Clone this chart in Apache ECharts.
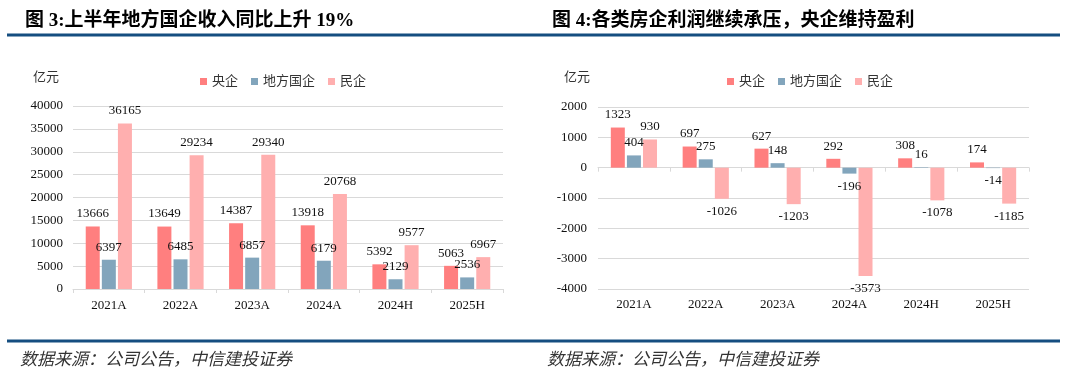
<!DOCTYPE html>
<html>
<head>
<meta charset="utf-8">
<script src="https://cdn.jsdelivr.net/npm/echarts@6/dist/echarts.min.js"></script>
<style>
html,body{margin:0;padding:0;background:#fff;}
#c{width:1080px;height:381px;}
</style>
</head>
<body>
<div id="c"></div>
<script>
const categories = ['2021A','2022A','2023A','2024A','2024H','2025H'];
const seriesNames = ['央企','地方国企','民企'];
const revCentral = [13666,13649,14387,13918,5392,5063];
const revLocal = [6397,6485,6857,6179,2129,2536];
const revPrivate = [36165,29234,29340,20768,9577,6967];
const profCentral = [1323,697,627,292,308,174];
const profLocal = [404,275,148,-196,16,-14];
const profPrivate = [930,-1026,-1203,-3573,-1078,-1185];
const title1 = '图 3:上半年地方国企收入同比上升 19%';
const title2 = '图 4:各类房企利润继续承压，央企维持盈利';
const sourceText = '数据来源：公司公告，中信建投证券';
const unitText = '亿元';

const colors = ['#FF7F7F','#82A5BC','#FFAFAF'];
const serif = "'Liberation Serif','Noto Sans CJK SC'";
const numFont = {fontFamily: serif, fontSize: 13, color: '#111'};

function mkData(arr){
  return arr.map(v => ({value: v, label: {position: v < 0 ? 'bottom' : 'top'}}));
}
function barSeries(name, data, xi, yi, color){
  return {
    name: name, type: 'bar', xAxisIndex: xi, yAxisIndex: yi,
    data: mkData(data), barWidth: 14, barGap: '15%',
    itemStyle: {color: color},
    label: Object.assign({show: true, distance: 6}, numFont),
    emphasis: {disabled: true}
  };
}
const plain = v => String(v);

const chart = echarts.init(document.getElementById('c'), null, {renderer: 'canvas'});
const gridLine = {show: true, lineStyle: {color: '#d9d9d9', width: 1}};
const option = {
  animation: false,
  color: colors,
  textStyle: {fontFamily: serif},
  title: [
    {text: title1, left: 20, top: 7, textStyle: {fontFamily: serif, fontSize: 19, fontWeight: 'bold', color: '#000'}},
    {text: title2, left: 547, top: 7, textStyle: {fontFamily: serif, fontSize: 19, fontWeight: 'bold', color: '#000'}}
  ],
  legend: [
    {data: seriesNames, left: 195, top: 70, icon: 'rect', itemWidth: 7, itemHeight: 7, itemGap: 13,
     textStyle: {fontFamily: serif, fontSize: 13, color: '#333'}},
    {data: seriesNames, left: 722, top: 70, icon: 'rect', itemWidth: 7, itemHeight: 7, itemGap: 13,
     textStyle: {fontFamily: serif, fontSize: 13, color: '#333'}}
  ],
  grid: [
    {left: 73, right: 577, top: 106, bottom: 92},
    {left: 598, right: 51, top: 107, bottom: 92}
  ],
  xAxis: [
    {type: 'category', gridIndex: 0, data: categories,
     axisLine: {show: true, lineStyle: {color: '#d9d9d9'}},
     axisTick: {show: true, length: 4, lineStyle: {color: '#d9d9d9'}},
     axisLabel: {margin: 10, fontFamily: serif, fontSize: 13, color: '#111'}},
    {type: 'category', gridIndex: 1, data: categories, position: 'bottom',
     axisLine: {show: false, onZero: false}, axisTick: {show: false},
     axisLabel: {margin: 9, fontFamily: serif, fontSize: 13, color: '#111'}},
    {type: 'category', gridIndex: 1, data: categories, position: 'bottom',
     axisLine: {show: true, onZero: true, lineStyle: {color: '#d9d9d9'}},
     axisTick: {show: true, length: 4, lineStyle: {color: '#d9d9d9'}},
     axisLabel: {show: false}}
  ],
  yAxis: [
    {type: 'value', gridIndex: 0, min: 0, max: 40000, interval: 5000,
     axisLine: {show: false}, axisTick: {show: false}, splitLine: gridLine,
     axisLabel: {margin: 10, fontFamily: serif, fontSize: 13, color: '#111', formatter: plain}},
    {type: 'value', gridIndex: 1, min: -4000, max: 2000, interval: 1000,
     axisLine: {show: false}, axisTick: {show: false}, splitLine: gridLine,
     axisLabel: {margin: 11, fontFamily: serif, fontSize: 13, color: '#111', formatter: plain}}
  ],
  series: [
    barSeries(seriesNames[0], revCentral, 0, 0, colors[0]),
    barSeries(seriesNames[1], revLocal, 0, 0, colors[1]),
    barSeries(seriesNames[2], revPrivate, 0, 0, colors[2]),
    barSeries(seriesNames[0], profCentral, 1, 1, colors[0]),
    barSeries(seriesNames[1], profLocal, 1, 1, colors[1]),
    barSeries(seriesNames[2], profPrivate, 1, 1, colors[2])
  ],
  graphic: [
    {type: 'line', shape: {x1: 7, y1: 35, x2: 540, y2: 35}, style: {stroke: '#154E80', lineWidth: 3}},
    {type: 'line', shape: {x1: 540, y1: 35, x2: 1060, y2: 35}, style: {stroke: '#154E80', lineWidth: 3}},
    {type: 'line', shape: {x1: 7, y1: 341, x2: 540, y2: 341}, style: {stroke: '#154E80', lineWidth: 3}},
    {type: 'line', shape: {x1: 540, y1: 341, x2: 1060, y2: 341}, style: {stroke: '#154E80', lineWidth: 3}},
    {type: 'text', left: 33, top: 70, style: {text: unitText, font: "13px 'Noto Sans CJK SC'", fill: '#333'}},
    {type: 'text', left: 564, top: 70, style: {text: unitText, font: "13px 'Noto Sans CJK SC'", fill: '#333'}},
    {type: 'text', left: 20, top: 350, style: {text: sourceText, font: "italic 17px 'Noto Sans CJK SC'", fill: '#333'}},
    {type: 'text', left: 547, top: 350, style: {text: sourceText, font: "italic 17px 'Noto Sans CJK SC'", fill: '#333'}}
  ]
};
chart.setOption(option);
</script>
</body>
</html>
